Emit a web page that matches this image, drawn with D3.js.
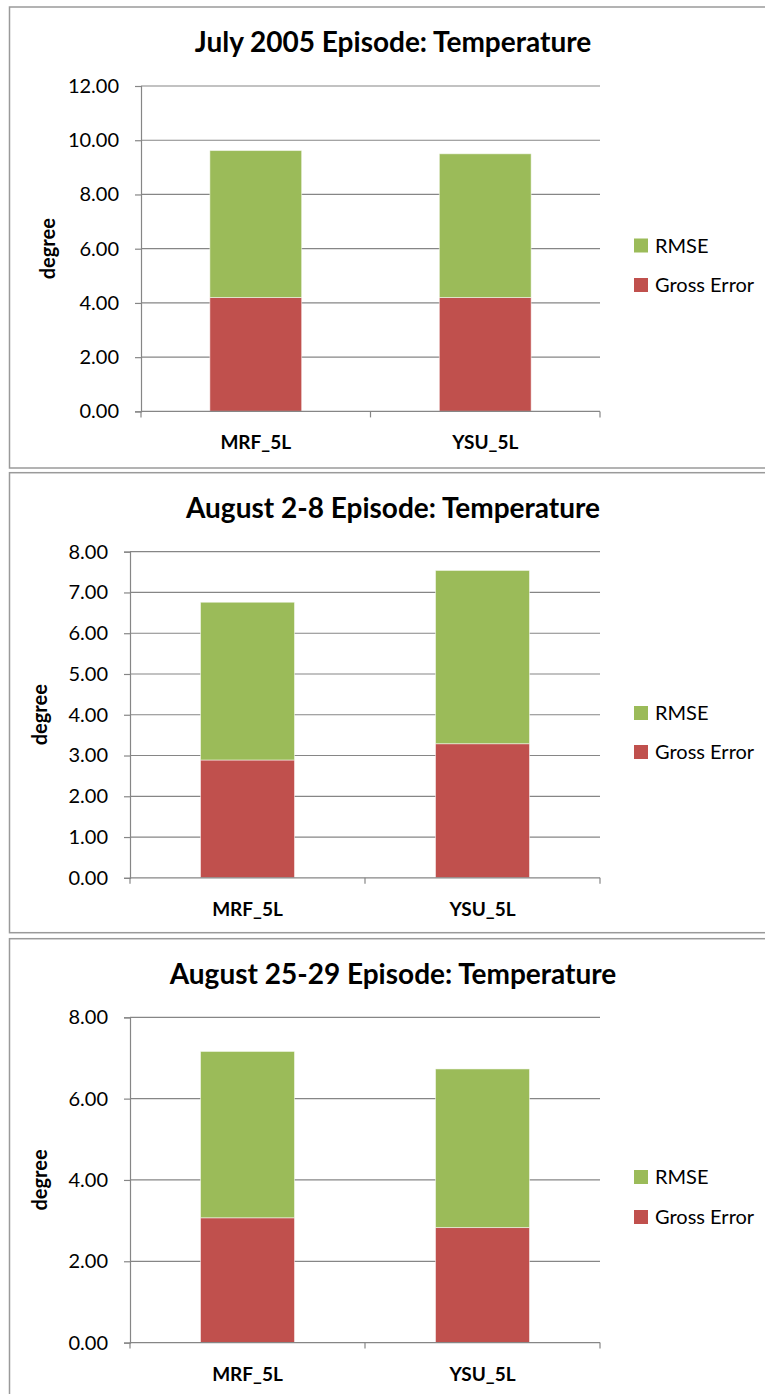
<!DOCTYPE html>
<html>
<head>
<meta charset="utf-8">
<script src="https://cdn.jsdelivr.net/npm/d3@7"></script>
<style>
  body { margin: 0; background: #fff; }
  svg text { font-family: Lato, "Open Sans", sans-serif; fill: #000; }
  .title { font-weight: bold; font-size: 28px; }
  .y-label { font-weight: bold; font-size: 20px; }
  .y-axis text { font-size: 20px; }
  .x-axis text { font-weight: bold; font-size: 19px; }
  .legend-item text { font-size: 20px; }
</style>
</head>
<body>
<svg id="chart"></svg>
<script>
// data
const categories = ['MRF_5L', 'YSU_5L'];
const series = ['Gross Error', 'RMSE'];
const titles = [
  'July 2005 Episode: Temperature',
  'August 2-8 Episode: Temperature',
  'August 25-29 Episode: Temperature'
];
const grossError = [
  [4.20, 4.20],
  [2.89, 3.29],
  [3.07, 2.83]
];
const rmse = [
  [5.42, 5.30],
  [3.87, 4.25],
  [4.09, 3.90]
];
const yMax = [12, 8, 8];
const yStep = [2, 1, 2];

// layout of each panel
const panels = [
  { top: 7, bottom: 468, left: 141, right: 600, pTop: 86, pBottom: 411.4, yLabelX: 48, legend: [245.5, 285] },
  { top: 472.7, bottom: 932.7, left: 130, right: 600, pTop: 551.7, pBottom: 877.8, yLabelX: 40, legend: [713, 752] },
  { top: 938.7, bottom: 1410, left: 130, right: 600, pTop: 1017.3, pBottom: 1342.6, yLabelX: 40, legend: [1177, 1217] }
];

const config = {
  "width": 765,
  "height": 1394,
  "colors": { 'Gross Error': '#C0504D', 'RMSE': '#9BBB59' },
  "grid": '#868686',
  "border": '#9a9a9a'
};

const svg = d3.select('#chart')
  .attr('width', config.width)
  .attr('height', config.height);

panels.forEach((p, idx) => {
  const g = svg.append('g').attr('class', 'panel panel-' + idx);

  // chart area border
  g.append('rect')
    .attr('x', 9.5)
    .attr('y', p.top)
    .attr('width', 780)
    .attr('height', p.bottom - p.top)
    .attr('fill', '#fff')
    .attr('stroke', config.border)
    .attr('stroke-width', 1.5);

  // stacked data for this panel
  const rows = categories.map((c, i) => ({
    cat: c,
    'Gross Error': grossError[idx][i],
    'RMSE': rmse[idx][i]
  }));
  const stacked = d3.stack().keys(series)(rows);

  const xScale = d3.scaleBand()
    .domain(categories)
    .range([p.left, p.right])
    .paddingInner(0.6)
    .paddingOuter(0.3);
  const yScale = d3.scaleLinear()
    .domain([0, yMax[idx]])
    .range([p.pBottom, p.pTop]);
  const ticks = d3.range(0, yMax[idx] + 0.001, yStep[idx]);

  // gridlines
  g.append('g')
    .attr('class', 'grid')
    .selectAll('line')
    .data(ticks.slice(1))
    .join('line')
    .attr('x1', p.left)
    .attr('x2', p.right)
    .attr('y1', d => yScale(d))
    .attr('y2', d => yScale(d))
    .attr('stroke', config.grid)
    .attr('stroke-width', 1.2);

  // bars
  g.append('g')
    .attr('class', 'bars-group')
    .selectAll('g')
    .data(stacked)
    .join('g')
    .attr('fill', d => config.colors[d.key])
    .selectAll('rect')
    .data(d => d)
    .join('rect')
    .attr('x', d => xScale(d.data.cat))
    .attr('y', d => yScale(d[1]))
    .attr('width', xScale.bandwidth())
    .attr('height', d => yScale(d[0]) - yScale(d[1]))
    .attr('stroke', '#ffffff')
    .attr('stroke-opacity', 0.5)
    .attr('stroke-width', 1);

  // y axis
  const yAxis = d3.axisLeft(yScale)
    .tickValues(ticks)
    .tickFormat(d3.format('.2f'))
    .tickSizeOuter(0)
    .tickSize(6)
    .tickPadding(16);
  const ya = g.append('g')
    .attr('class', 'y-axis')
    .attr('transform', `translate(${p.left},0)`)
    .call(yAxis);
  ya.select('.domain').attr('stroke', config.grid).attr('stroke-width', 1.2);
  ya.selectAll('.tick line').attr('stroke', config.grid).attr('stroke-width', 1.2);
  ya.selectAll('.tick text').attr('fill', '#000').style('font-family', 'Lato, sans-serif');

  // x axis, ticks sit between the categories
  const xa = g.append('g')
    .attr('class', 'x-axis')
    .attr('transform', `translate(0,${p.pBottom})`);
  xa.append('line')
    .attr('x1', p.left)
    .attr('x2', p.right)
    .attr('stroke', config.grid)
    .attr('stroke-width', 1.2);
  const bandStep = (p.right - p.left) / categories.length;
  xa.selectAll('.sep')
    .data(d3.range(categories.length + 1))
    .join('line')
    .attr('class', 'sep')
    .attr('x1', i => p.left + i * bandStep)
    .attr('x2', i => p.left + i * bandStep)
    .attr('y1', 0)
    .attr('y2', 6)
    .attr('stroke', config.grid)
    .attr('stroke-width', 1.2);
  xa.selectAll('.cat')
    .data(categories)
    .join('text')
    .attr('class', 'cat')
    .attr('x', d => xScale(d) + xScale.bandwidth() / 2)
    .attr('y', 38)
    .attr('text-anchor', 'middle')
    .text(d => d);

  // title
  g.append('text')
    .attr('class', 'title')
    .attr('x', 393)
    .attr('y', p.top + 45)
    .attr('text-anchor', 'middle')
    .text(titles[idx]);

  // y label
  g.append('text')
    .attr('class', 'y-label')
    .attr('transform', `translate(${p.yLabelX},${(p.pTop + p.pBottom) / 2}) rotate(-90)`)
    .attr('text-anchor', 'middle')
    .attr('dy', '0.35em')
    .text('degree');

  // legend, RMSE listed first
  const legendData = ['RMSE', 'Gross Error'];
  const legendItems = g.append('g')
    .attr('class', 'legend')
    .selectAll('.legend-item')
    .data(legendData)
    .join('g')
    .attr('class', 'legend-item')
    .attr('transform', (d, i) => `translate(634,${p.legend[i]})`);
  legendItems.append('rect')
    .attr('y', -7)
    .attr('width', 14)
    .attr('height', 14)
    .attr('fill', d => config.colors[d]);
  legendItems.append('text')
    .attr('x', 21)
    .attr('dy', '0.35em')
    .text(d => d);
});
</script>
</body>
</html>
